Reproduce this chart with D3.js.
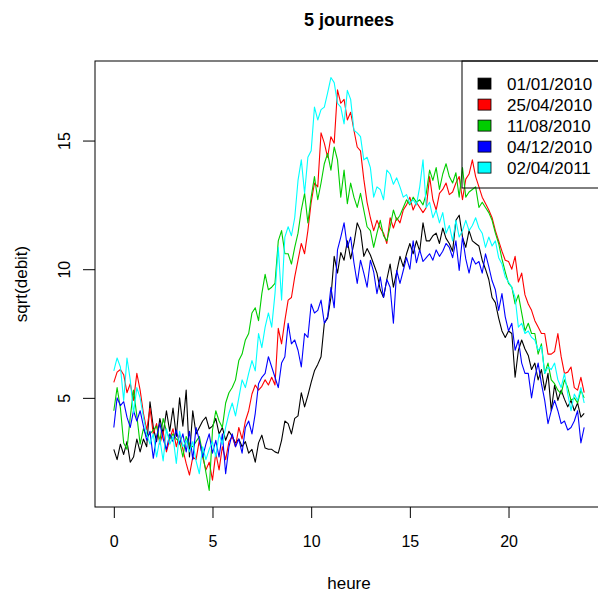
<!DOCTYPE html>
<html>
<head>
<style>
  body { margin: 0; background: #fff; }
  svg text { font-family: "Liberation Sans", Arial, Helvetica, sans-serif; fill: #000; }
  .axis text { font-size: 16px; }
  .axis line { stroke: #000; }
  .lab { font-size: 17px; }
  .title { font-size: 18px; font-weight: bold; }
  .leg text { font-size: 17px; }
</style>
<script src="https://d3js.org/d3.v7.min.js"></script>
</head>
<body>
<svg width="598" height="595"></svg>
<script>
// one value every 10 minutes, 0h to 23h50
var heures = d3.range(0, 1440, 10).map(function(m) { return m / 60; });

var dates = ["01/01/2010", "25/04/2010", "11/08/2010", "04/12/2010", "02/04/2011"];
var couleurs = ["#000000", "#ff0000", "#00cd00", "#0000ff", "#00ffff"];

// sqrt(debit), one row per hour
var j01012010 = [
  3.0, 2.6, 3.2, 2.8, 3.3, 2.5,
  2.7, 3.4, 2.9, 3.4, 3.1, 4.85,
  3.85, 3.3, 4.2, 3.6, 4.5, 3.7,
  4.6, 3.5, 5.0, 3.9, 5.3, 2.7,
  4.5, 3.6, 3.85, 4.1, 4.25, 3.8,
  3.9, 4.2, 3.6, 3.85, 3.35, 3.7,
  3.5, 3.25, 3.4, 3.1, 3.3, 2.85,
  3.0, 2.5, 3.25, 3.55, 3.05, 3.0,
  3.0, 2.9, 2.85, 3.35, 4.1, 4.0,
  3.6, 4.2, 4.3, 5.2, 4.65, 5.1,
  5.6, 6.05, 6.3, 6.6, 7.9, 8.1,
  8.9, 10.5, 9.85, 10.65, 10.35, 11.1,
  10.4, 11.0, 11.8, 11.5, 10.5, 10.8,
  10.55, 10.2, 9.85, 9.2, 8.9, 9.6,
  10.2, 9.3, 9.9, 10.5, 10.1, 10.6,
  11.0, 10.6, 11.1, 10.7, 11.8, 11.1,
  11.1, 11.3, 11.4, 11.0, 11.6, 11.2,
  11.0, 10.7, 11.9, 12.1, 11.25, 10.85,
  11.5, 11.1, 11.0, 10.9, 10.35, 10.0,
  9.6, 8.9, 8.7, 8.1, 7.6, 7.35,
  7.6, 7.5, 5.8, 6.85, 7.25, 6.9,
  6.65, 6.1, 6.35, 5.7, 6.1, 5.3,
  5.95, 4.5, 5.5, 4.9, 5.3, 4.95,
  4.65, 4.9, 4.5, 4.8, 4.25, 4.4
];
var j25042010 = [
  5.6, 6.0, 6.1, 5.9, 5.2, 5.55,
  4.9, 5.95, 5.3, 4.4, 3.75, 4.6,
  3.6, 4.0, 3.2, 3.7, 2.9, 3.4,
  3.8, 3.1, 3.6, 3.0, 2.45, 2.0,
  2.7, 2.6, 3.35, 2.7, 2.2, 2.5,
  1.8, 2.85, 2.2, 3.1, 2.6, 3.3,
  3.5, 3.1, 3.85, 3.4, 4.1, 4.5,
  5.15, 5.5, 5.3, 5.45, 5.7, 5.5,
  5.8, 5.5, 7.7, 7.1, 8.0, 8.8,
  8.9, 9.7, 10.35, 11.0, 10.6, 11.5,
  12.6, 13.35, 13.2, 15.3, 14.9, 14.35,
  15.15, 14.9, 16.97, 16.45, 16.6, 15.8,
  16.1, 15.4, 14.75, 14.6, 13.5, 12.6,
  12.0, 11.5, 11.9, 11.6, 11.4, 11.0,
  12.0, 11.6, 12.0, 11.8, 12.3, 12.5,
  12.8, 12.3, 12.6, 12.4, 12.2, 12.4,
  13.6, 12.7, 12.3, 12.95, 13.1, 13.35,
  12.9, 13.0, 13.35, 13.6, 12.7, 13.5,
  13.7, 14.25, 13.6, 13.2, 12.8, 12.55,
  12.3, 12.0, 11.5, 11.1, 10.7, 10.35,
  10.3, 10.0, 10.5, 9.5, 9.85, 9.0,
  8.65, 8.4, 8.0, 7.75, 7.5, 7.5,
  6.7, 6.7, 6.8, 7.5, 6.6, 5.95,
  6.0, 6.2, 5.4, 5.3, 5.8, 5.2
];
var j11082010 = [
  4.5, 5.4, 4.6, 3.25, 3.0, 4.25,
  5.3, 4.3, 3.2, 3.8, 3.5, 3.6,
  3.75, 3.9, 3.3, 4.2, 3.7, 3.4,
  3.6, 3.4, 3.3, 2.7, 3.5, 3.2,
  3.1, 3.3, 3.5, 2.85, 2.1, 1.4,
  3.75, 4.5, 4.1, 3.85, 4.8, 5.2,
  5.4, 5.7, 6.45, 6.7, 7.25, 7.5,
  8.3, 8.5, 8.0, 9.05, 9.8, 9.2,
  9.3, 9.45, 11.1, 11.5, 10.6, 10.6,
  10.2, 10.85, 11.4, 12.3, 12.95, 11.8,
  12.8, 13.6, 12.7, 13.35, 14.1, 14.5,
  13.85, 14.75, 14.25, 12.8, 13.85, 12.55,
  13.35, 12.8, 12.4, 12.95, 12.3, 11.65,
  11.5, 10.85, 11.4, 11.9, 11.3, 11.1,
  11.65, 12.3, 11.9, 12.1, 12.4, 12.7,
  12.5, 12.8, 12.6, 12.7, 12.5, 12.95,
  13.85, 13.45, 13.95, 13.1, 13.7, 14.1,
  13.6, 13.35, 13.75, 12.8, 13.95, 12.8,
  13.0, 13.1, 13.2, 12.4, 12.6, 12.4,
  12.2, 11.9, 11.4, 11.0, 10.4, 9.9,
  9.45, 9.3, 8.65, 9.0, 8.3, 7.6,
  7.9, 7.5, 7.5, 6.7, 7.1, 5.95,
  6.35, 5.7, 5.55, 5.3, 5.15, 5.7,
  5.4, 4.9, 5.0, 4.8, 5.3, 5.0
];
var j04122010 = [
  3.85, 5.0, 4.7, 4.85, 4.25, 3.85,
  4.5, 4.1, 4.5, 3.9, 3.35, 3.7,
  2.65, 3.5, 4.0, 3.4, 3.0, 3.6,
  3.3, 3.75, 3.2, 3.6, 2.9, 3.7,
  2.6, 3.85, 3.35, 2.7, 3.2, 3.6,
  2.85, 3.35, 2.7, 3.6, 2.05, 3.1,
  3.6, 3.1, 3.4, 2.85, 3.85, 4.1,
  3.6, 4.4, 5.55, 5.8, 5.95, 6.6,
  6.2, 5.8, 5.4, 6.35, 6.6, 7.9,
  7.1, 7.25, 6.85, 6.2, 7.5, 7.35,
  8.65, 8.3, 8.4, 8.8, 7.9, 8.15,
  9.3, 8.5, 10.75, 11.25, 11.8, 10.85,
  11.25, 10.25, 9.45, 10.35, 9.85, 9.3,
  10.35, 9.9, 9.05, 9.7, 8.9, 9.6,
  9.3, 7.9, 9.95, 9.45, 9.95, 10.45,
  10.0, 11.1, 10.25, 10.75, 10.3, 10.45,
  10.6, 10.35, 10.75, 10.5, 10.7, 11.0,
  10.85, 10.45, 11.1, 9.95, 11.25, 10.4,
  9.85, 10.45, 10.2, 10.3, 9.85, 10.6,
  10.1, 9.55, 9.2, 8.4, 9.05, 8.15,
  7.6, 7.9, 6.85, 7.25, 6.35, 5.95,
  5.95, 5.0, 5.8, 6.35, 5.55, 4.9,
  4.0, 4.5, 4.9, 4.5, 4.0, 4.1,
  3.75, 3.85, 4.1, 4.5, 3.25, 3.85
];
var j02042011 = [
  6.05, 6.55, 6.2, 4.9, 6.55, 5.7,
  4.4, 5.4, 5.0, 4.25, 3.6, 3.2,
  3.6, 2.7, 3.4, 2.55, 3.8, 3.2,
  3.5, 2.45, 3.7, 3.1, 3.35, 2.9,
  3.3, 2.55, 2.05, 3.1, 2.6, 3.0,
  3.3, 2.7, 3.6, 3.2, 3.85, 4.4,
  4.8, 4.3, 5.0, 5.7, 5.4, 5.95,
  6.45, 6.05, 7.5, 6.95, 7.75, 8.3,
  7.75, 9.05, 10.85, 8.8, 11.25, 11.65,
  11.3, 12.0, 13.45, 14.25, 12.95, 14.35,
  14.6, 16.3, 15.8, 16.2, 16.3, 16.85,
  17.45, 17.25, 16.45, 16.3, 15.65, 16.95,
  16.6, 15.4, 15.3, 15.15, 14.25, 14.35,
  13.95, 12.8, 13.2, 13.1, 12.7, 13.85,
  13.7, 13.3, 13.55, 13.2, 12.8, 12.9,
  12.55, 12.7, 12.5, 13.2, 14.25, 12.4,
  12.6, 12.0, 12.3, 11.8, 12.2, 11.4,
  11.7, 11.1, 11.9, 11.25, 11.5, 11.9,
  11.5, 11.7, 12.0, 11.6, 11.4, 10.85,
  11.25, 10.9, 11.1, 10.45, 10.2, 9.7,
  9.5, 9.3, 8.9, 7.75, 7.9, 7.5,
  7.6, 7.35, 7.25, 6.85, 7.0, 5.95,
  6.2, 6.1, 6.35, 5.7, 5.4, 5.95,
  5.15, 4.5, 5.15, 4.9, 5.4, 4.8
];
var series = [j01012010, j25042010, j11082010, j04122010, j02042011];

var xTicks = [0, 5, 10, 15, 20];
var yTicks = [5, 10, 15];

var svg = d3.select("svg"),
    gauche = 95, droite = 603, haut = 61, bas = 507;

// R style range: data extent plus 4% each side
function etendue(ext) {
  var p = (ext[1] - ext[0]) * 0.04;
  return [ext[0] - p, ext[1] + p];
}
var x = d3.scaleLinear().domain(etendue(d3.extent(heures))).range([gauche, droite]);
var y = d3.scaleLinear().domain(etendue(d3.extent(d3.merge(series)))).range([bas, haut]);

var line = d3.line()
  .x(function(d, i) { return x(heures[i]); })
  .y(function(d) { return y(d); });

svg.append("g")
  .selectAll("path")
  .data(series)
  .enter()
  .append("path")
  .attr("d", line)
  .attr("fill", "none")
  .attr("stroke", function(d, i) { return couleurs[i]; })
  .attr("stroke-width", 1.1)
  .attr("stroke-linejoin", "round");

// axes
var gx = svg.append("g")
  .attr("class", "axis")
  .attr("transform", "translate(0," + bas + ")")
  .call(d3.axisBottom(x).tickValues(xTicks).tickSize(11));
gx.select(".domain").remove();
gx.selectAll("text").attr("dy", null).attr("y", 40);

var gy = svg.append("g")
  .attr("class", "axis")
  .attr("transform", "translate(" + gauche + ",0)")
  .call(d3.axisLeft(y).tickValues(yTicks).tickSize(12));
gy.select(".domain").remove();
gy.selectAll("text")
  .attr("x", null).attr("dy", null)
  .attr("text-anchor", "middle")
  .attr("transform", "translate(-25,0) rotate(-90)");

svg.append("rect")
  .attr("x", gauche).attr("y", haut)
  .attr("width", droite - gauche).attr("height", bas - haut)
  .attr("fill", "none").attr("stroke", "#000");

svg.append("text")
  .attr("class", "title")
  .attr("x", (gauche + droite) / 2).attr("y", 26)
  .attr("text-anchor", "middle")
  .text("5 journees");

svg.append("text")
  .attr("class", "lab")
  .attr("x", (gauche + droite) / 2).attr("y", 589)
  .attr("text-anchor", "middle")
  .text("heure");

svg.append("text")
  .attr("class", "lab")
  .attr("transform", "translate(27," + (haut + bas) / 2 + ") rotate(-90)")
  .attr("text-anchor", "middle")
  .text("sqrt(debit)");

// legend, top right corner of the plot
var leg = svg.append("g").attr("class", "leg");
leg.append("rect")
  .attr("x", 462).attr("y", haut)
  .attr("width", droite - 462).attr("height", 127)
  .attr("fill", "none").attr("stroke", "#000");
var item = leg.selectAll("g.item")
  .data(dates)
  .enter()
  .append("g")
  .attr("class", "item")
  .attr("transform", function(d, i) { return "translate(0," + (83.6 + i * 21) + ")"; });
item.append("rect")
  .attr("x", 478).attr("y", -5.5)
  .attr("width", 13).attr("height", 11)
  .attr("fill", function(d, i) { return couleurs[i]; })
  .attr("stroke", "#000").attr("stroke-width", 0.8);
item.append("text")
  .attr("x", 507).attr("y", 6)
  .text(function(d) { return d; });
</script>
</body>
</html>
